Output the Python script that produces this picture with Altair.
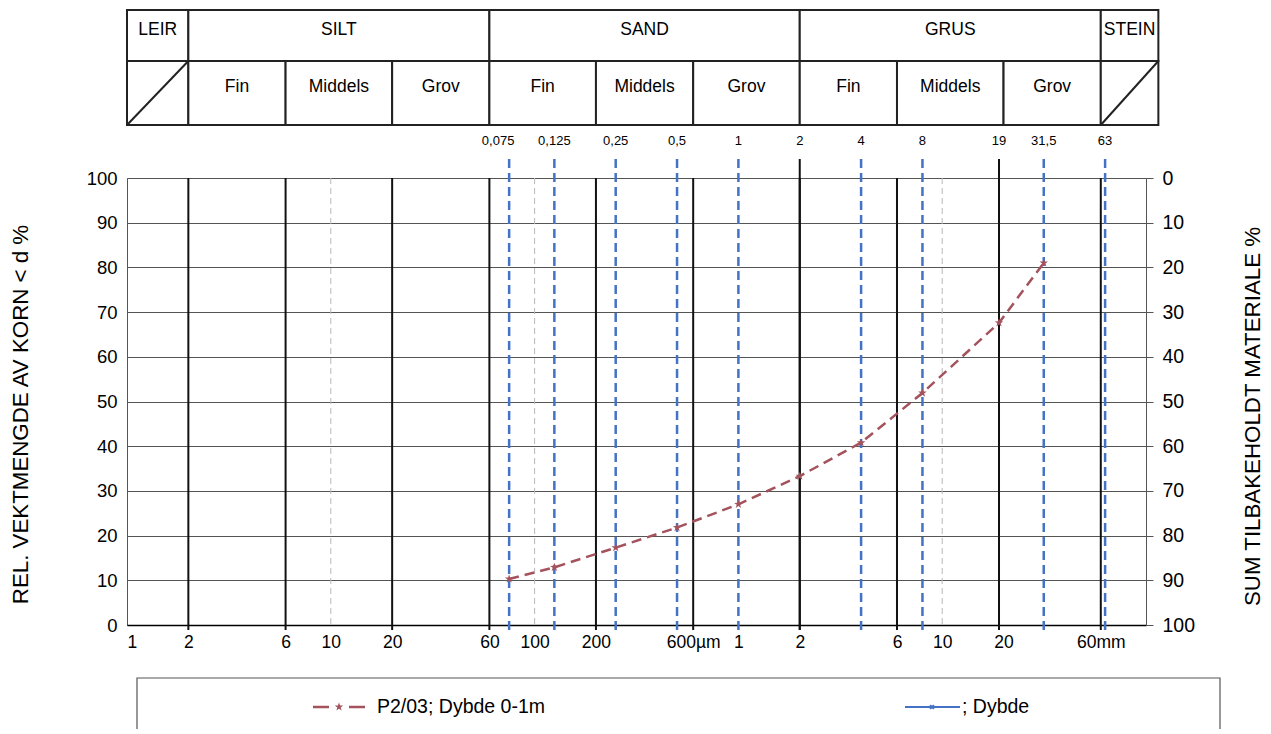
import altair as alt
import pandas as pd

# ---------------- data ----------------
sieve_um = [75, 125, 250, 500, 1000, 2000, 4000, 8000, 19000, 31500, 63000]
sieve_labels = ["0,075", "0,125", "0,25", "0,5", "1", "2", "4", "8", "19", "31,5", "63"]
sieve_black = [2000, 19000]          # sieves drawn as solid black lines

curve_um = [75, 125, 250, 500, 1000, 2000, 4000, 8000, 19000, 31500]
curve_pct = [10.3, 12.9, 17.3, 21.8, 27.0, 33.3, 40.8, 51.9, 67.6, 81.0]
series_names = ["P2/03; Dybde 0-1m", "; Dybde"]

major_grid_um = [2, 6, 20, 60, 200, 600, 2000, 6000, 60000]
minor_grid_um = [10, 100, 10000]

x_tick_values = [1, 2, 6, 10, 20, 60, 100, 200, 600, 1000, 2000, 6000, 10000, 20000, 60000]
x_tick_labels = ["1", "2", "6", "10", "20", "60", "100", "200", "600µm",
                 "1", "2", "6", "10", "20", "60mm"]
y_tick_values = list(range(0, 101, 10))

main_classes = ["LEIR", "SILT", "SAND", "GRUS", "STEIN"]
main_bounds = [1, 2, 60, 2000, 60000, 115000]
sub_classes = ["", "Fin", "Middels", "Grov", "Fin", "Middels", "Grov",
               "Fin", "Middels", "Grov", ""]
sub_bounds = [1, 2, 6, 20, 60, 200, 600, 2000, 6000, 20000, 60000, 115000]

# ---------------- layout / style ----------------
W, H = 1019, 447
FONT = "Liberation Sans"
RED = "#a4525c"
BLUE = "#4472c4"
STAR = ("M0,-1L0.24,-0.33L0.95,-0.31L0.38,0.12L0.59,0.81L0,0.4L-0.59,0.81"
        "L-0.38,0.12L-0.95,-0.31L-0.24,-0.33Z")
XMARK = "M-1,-1L1,1M-1,1L1,-1"

label_expr = " : ".join(
    f"datum.value == {v} ? '{l}'" for v, l in zip(x_tick_values, x_tick_labels)
) + " : ''"

xscale = alt.Scale(type="log", domain=[1, 100000], nice=False)
xaxis = alt.Axis(values=x_tick_values, labelExpr=label_expr, title=None,
                 ticks=False, grid=False, domainColor="#000", domainWidth=1.5,
                 labelFont=FONT, labelFontSize=17.5, labelColor="#000",
                 labelPadding=8, labelOverlap=False)
yscale = alt.Scale(domain=[0, 100], nice=False)

df_curve = pd.DataFrame({"x": curve_um, "y": curve_pct, "s": series_names[0]})
df_sieve = pd.DataFrame({"x": sieve_um, "label": sieve_labels})
df_major = pd.DataFrame({"x": major_grid_um})
df_minor = pd.DataFrame({"x": minor_grid_um})
df_main = pd.DataFrame({"name": main_classes, "a": main_bounds[:-1], "b": main_bounds[1:]})
df_sub = pd.DataFrame({"name": sub_classes, "a": sub_bounds[:-1], "b": sub_bounds[1:]})
df_yt = pd.DataFrame({"v": y_tick_values})
df_leg1 = pd.DataFrame({"label": [series_names[0]]})
df_leg2 = pd.DataFrame({"label": [series_names[1]]})


def X(field):
    return alt.X(f"{field}:Q", scale=xscale, axis=xaxis)


# minor dashed grey grid
minor = alt.Chart(df_minor).mark_rule(color="#b8b8b8", strokeWidth=1, strokeDash=[6, 4]).encode(
    x=X("x"), y=alt.value(0), y2=alt.value(H))

# major black grid (with small tick below axis)
major = alt.Chart(df_major).mark_rule(color="#111", strokeWidth=2).encode(
    x=X("x"), y=alt.value(0), y2=alt.value(H + 5))

# sieve lines
sieve_blue = alt.Chart(df_sieve).transform_filter(
    f"indexof({sieve_black}, datum.x) < 0"
).mark_rule(color=BLUE, strokeWidth=2.5, strokeDash=[9, 5]).encode(
    x=X("x"), y=alt.value(-19), y2=alt.value(H + 5))
sieve_blk = alt.Chart(df_sieve).transform_filter(
    f"indexof({sieve_black}, datum.x) >= 0"
).mark_rule(color="#111", strokeWidth=2).encode(
    x=X("x"), y=alt.value(-19), y2=alt.value(H + 5))

sieve_text = alt.Chart(df_sieve).transform_filter("datum.x != 75").mark_text(
    font=FONT, fontSize=13, color="#000", baseline="middle").encode(
    x=X("x"), y=alt.value(-37), text="label:N")
sieve_text0 = alt.Chart(df_sieve).transform_filter("datum.x == 75").mark_text(
    font=FONT, fontSize=13, color="#000", baseline="middle", dx=-11).encode(
    x=X("x"), y=alt.value(-37), text="label:N")

# curve
curve = alt.Chart(df_curve).mark_line(
    color=RED, strokeWidth=2.5, strokeDash=[10, 6],
    point=alt.OverlayMarkDef(shape=STAR, filled=True, size=80, color=RED)
).encode(
    x=X("x"),
    y=alt.Y("y:Q", scale=yscale,
            axis=alt.Axis(orient="left", values=y_tick_values, grid=True,
                          gridColor="#555", gridWidth=1, ticks=False, domain=False,
                          labelFont=FONT, labelFontSize=18.5, labelColor="#000",
                          labelPadding=10,
                          title="REL. VEKTMENGDE AV KORN < d %",
                          titleFont=FONT, titleFontSize=22.3, titleFontWeight="normal",
                          titleColor="#000", titleAngle=270, titleX=-107,
                          titleY=236, titleAlign="center", titleBaseline="middle")),
)

# right axis carrier
right = alt.Chart(df_yt).mark_tick(opacity=0).encode(
    y=alt.Y("v:Q", scale=yscale,
            axis=alt.Axis(orient="right", values=y_tick_values, grid=False,
                          ticks=True, tickSize=7, tickColor="#555", domain=True,
                          domainColor="#555", labelExpr="100 - datum.value",
                          labelFont=FONT, labelFontSize=19.5, labelColor="#000",
                          labelPadding=9,
                          title="SUM TILBAKEHOLDT MATERIALE %",
                          titleFont=FONT, titleFontSize=22.3, titleFontWeight="normal",
                          titleColor="#000", titleAngle=270, titleX=106,
                          titleY=238, titleAlign="center", titleBaseline="middle")),
)

# header table
T_TOP, T_MID, T_BOT = -168, -117, -53
tab_main = alt.Chart(df_main).mark_rect(fill="white", stroke="#222", strokeWidth=2).encode(
    x=X("a"), x2="b", y=alt.value(T_TOP), y2=alt.value(T_MID))
tab_sub = alt.Chart(df_sub).mark_rect(fill="white", stroke="#222", strokeWidth=2).encode(
    x=X("a"), x2="b", y=alt.value(T_MID), y2=alt.value(T_BOT))
tab_diag = alt.Chart(df_sub).transform_filter("datum.name == ''").mark_rule(
    color="#222", strokeWidth=2).encode(
    x=X("a"), x2="b", y=alt.value(T_BOT), y2=alt.value(T_MID))
tab_main_txt = alt.Chart(df_main).transform_calculate(c="sqrt(datum.a*datum.b)").mark_text(
    font=FONT, fontSize=17.5, color="#000", baseline="middle").encode(
    x=X("c"), y=alt.value(-148), text="name:N")
tab_sub_txt = alt.Chart(df_sub).transform_calculate(c="sqrt(datum.a*datum.b)").mark_text(
    font=FONT, fontSize=17.5, color="#000", baseline="middle").encode(
    x=X("c"), y=alt.value(-91), text="name:N")

# legend (drawn box)
LY = 529
leg_box = alt.Chart(df_leg1).mark_rect(fill="white", stroke="#555", strokeWidth=1.2).encode(
    x=alt.value(10), x2=alt.value(1093), y=alt.value(500), y2=alt.value(620))
leg1_line = alt.Chart(df_leg1).mark_rule(color=RED, strokeWidth=2.5, strokeDash=[16, 20]).encode(
    x=alt.value(186), x2=alt.value(238), y=alt.value(LY))
leg1_pt = alt.Chart(df_leg1).mark_point(shape=STAR, filled=True, size=80, color=RED, opacity=1).encode(
    x=alt.value(212), y=alt.value(LY))
leg1_txt = alt.Chart(df_leg1).mark_text(font=FONT, fontSize=19.5, color="#000", align="left",
                                        baseline="middle").encode(
    x=alt.value(250), y=alt.value(LY), text="label:N")
leg2_line = alt.Chart(df_leg2).mark_rule(color=BLUE, strokeWidth=2).encode(
    x=alt.value(778), x2=alt.value(833), y=alt.value(LY))
leg2_pt = alt.Chart(df_leg2).mark_point(shape=XMARK, filled=False, size=14, color=BLUE,
                                        strokeWidth=2, opacity=1).encode(
    x=alt.value(805), y=alt.value(LY))
leg2_txt = alt.Chart(df_leg2).mark_text(font=FONT, fontSize=19.5, color="#000", align="left",
                                        baseline="middle").encode(
    x=alt.value(835), y=alt.value(LY), text="label:N")

chart = alt.layer(
    minor, major, sieve_blue, sieve_blk, sieve_text, sieve_text0, curve, right,
    tab_main, tab_sub, tab_diag, tab_main_txt, tab_sub_txt,
    leg_box, leg1_line, leg1_pt, leg1_txt, leg2_line, leg2_pt, leg2_txt,
).resolve_scale(y="independent").properties(
    width=W, height=H,
    padding={"left": 127, "top": 178, "right": 125, "bottom": 104},
    autosize=alt.AutoSizeParams(type="none"),
    background="white",
).configure_view(stroke="#555", strokeWidth=1)

chart.save("out.html", embed_options={"renderer": "svg", "actions": False})
